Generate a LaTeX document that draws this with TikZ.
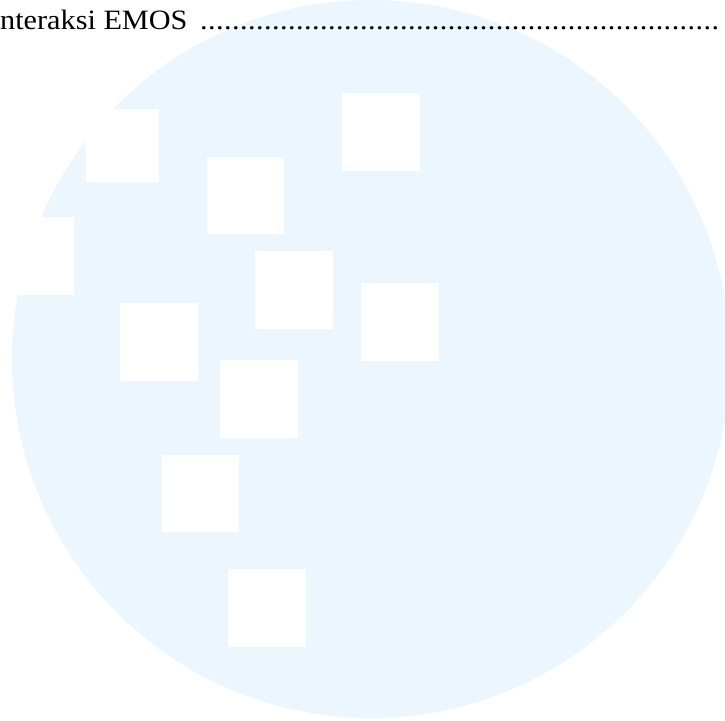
\documentclass[tikz,border=0pt]{standalone}
\usepackage{fontspec}
\setmainfont{Liberation Serif}
\definecolor{wmblue}{RGB}{235,246,254}
\tikzset{
  tile/.style={fill=white, draw=none},
  header/.style={anchor=base west, inner sep=0pt, xscale=1.08, font=\fontsize{28}{31}\selectfont}
}

\begin{document}
\begin{tikzpicture}[x=1pt, y=-1pt]
\useasboundingbox (0,0) rectangle (725,720);
\begin{scope}
\clip (0,0) rectangle (725,720);
\fill[wmblue] (371,359) circle (359);
\foreach \tx/\ty/\ts in {86/109/73, 207/157/77, 342/93/78, -4/217/78, 255/251/78,
                         361/283/78, 120/303/78, 220/360/78, 162/455/77, 228/569/78}
  \fill[tile] (\tx,\ty) rectangle ++(\ts,\ts);
\node[header] (title) at (0,29)
  {\hbox to 671pt{nteraksi EMOS \leaders\hbox to 7.4pt{\hss.\hss}\hfill}};
\end{scope}
\end{tikzpicture}
\end{document}
